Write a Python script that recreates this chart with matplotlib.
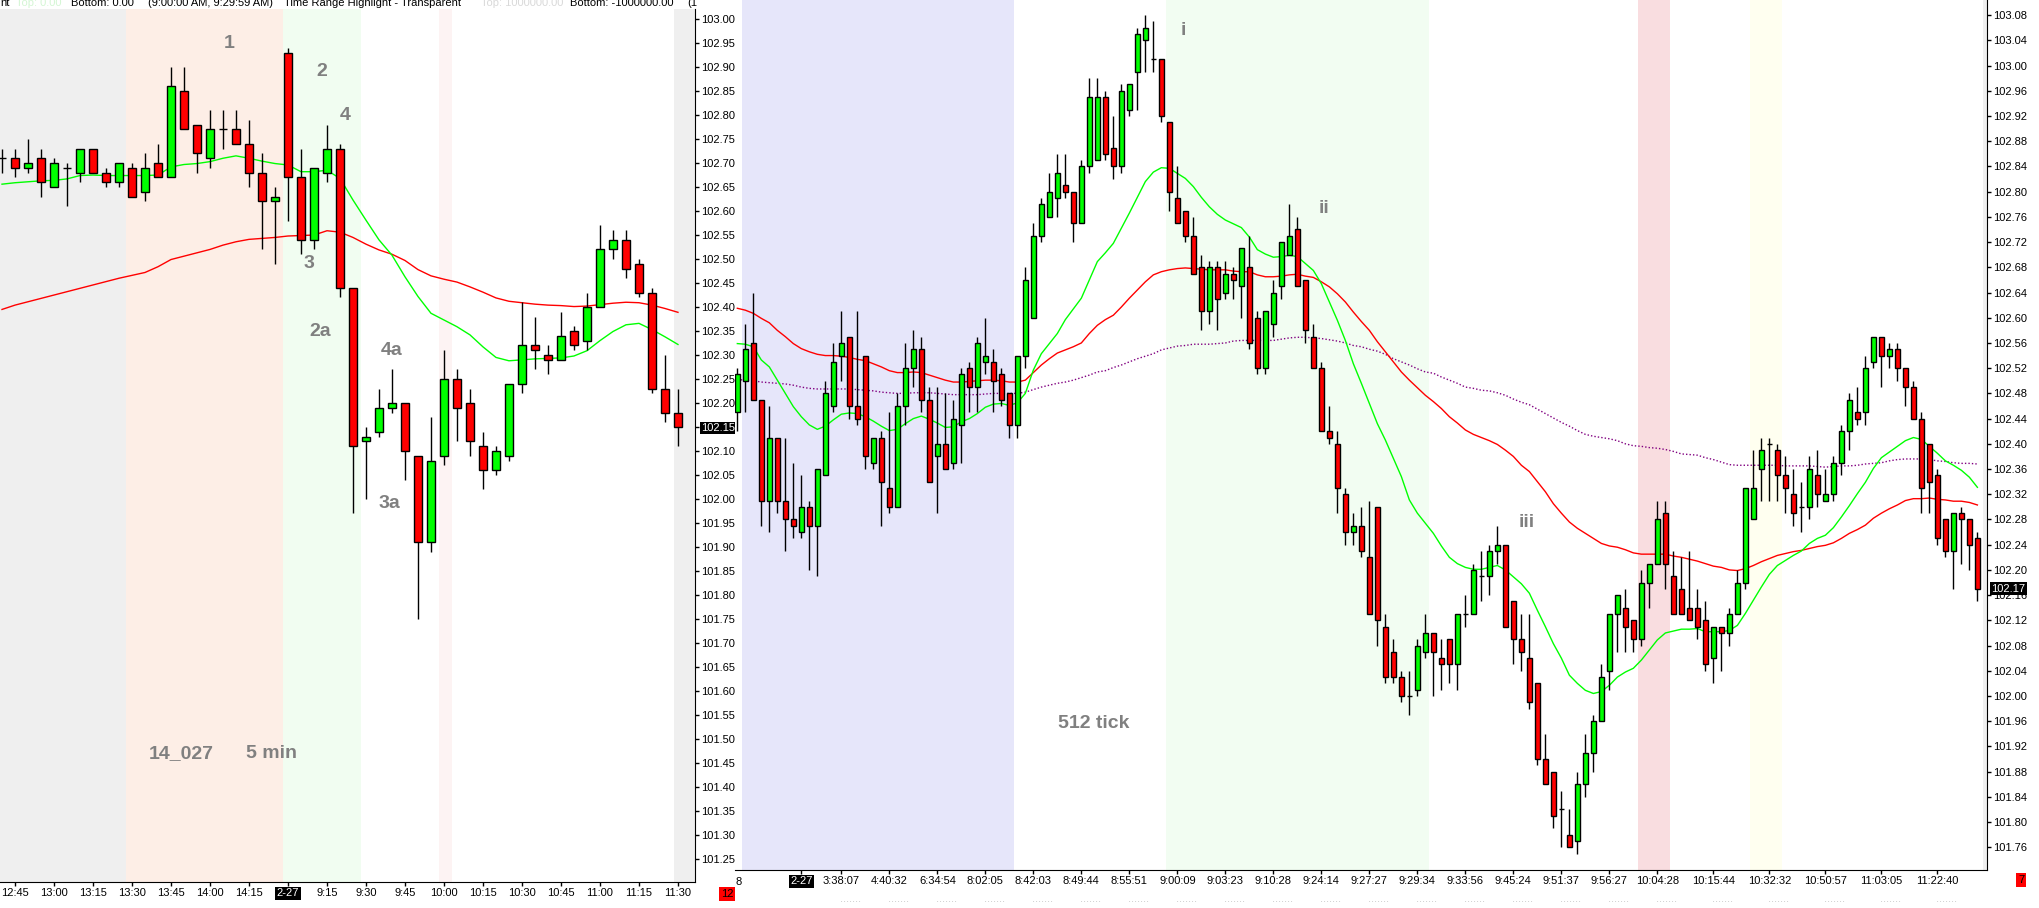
import numpy as np
import matplotlib
matplotlib.use("Agg")
import matplotlib.pyplot as plt

plt.rcParams['font.family'] = ['Liberation Sans', 'DejaVu Sans']

# ---- left panel: 5 min bars ----
l_open = [102.71, 102.71, 102.69, 102.71, 102.65, 102.69, 102.68, 102.73, 102.68, 102.66,
          102.69, 102.64, 102.70, 102.67, 102.85, 102.78, 102.71, 102.77, 102.77, 102.74,
          102.68, 102.62, 102.93, 102.67, 102.54, 102.68, 102.73, 102.44, 102.12, 102.14,
          102.19, 102.20, 102.09, 101.91, 102.09, 102.25, 102.20, 102.11, 102.06, 102.09,
          102.24, 102.32, 102.30, 102.29, 102.35, 102.33, 102.40, 102.52, 102.54, 102.49,
          102.43, 102.23, 102.18]
l_high = [102.73, 102.73, 102.75, 102.73, 102.71, 102.70, 102.73, 102.73, 102.69, 102.70,
          102.70, 102.72, 102.74, 102.90, 102.90, 102.78, 102.81, 102.81, 102.81, 102.79,
          102.72, 102.65, 102.94, 102.73, 102.69, 102.78, 102.74, 102.44, 102.15, 102.23,
          102.27, 102.20, 102.09, 102.17, 102.31, 102.27, 102.23, 102.14, 102.11, 102.24,
          102.41, 102.38, 102.32, 102.39, 102.36, 102.43, 102.57, 102.56, 102.56, 102.50,
          102.44, 102.30, 102.23]
l_low = [102.68, 102.67, 102.68, 102.63, 102.65, 102.61, 102.66, 102.68, 102.65, 102.65,
         102.63, 102.62, 102.67, 102.67, 102.77, 102.68, 102.69, 102.73, 102.74, 102.65,
         102.52, 102.49, 102.58, 102.51, 102.52, 102.66, 102.42, 101.97, 102.00, 102.13,
         102.18, 102.04, 101.75, 101.89, 102.07, 102.12, 102.09, 102.02, 102.05, 102.08,
         102.22, 102.27, 102.26, 102.29, 102.31, 102.31, 102.40, 102.50, 102.46, 102.42,
         102.22, 102.16, 102.11]
l_close = [102.71, 102.69, 102.70, 102.66, 102.70, 102.69, 102.73, 102.68, 102.66, 102.70,
           102.63, 102.69, 102.67, 102.86, 102.77, 102.72, 102.77, 102.77, 102.74, 102.68,
           102.62, 102.63, 102.67, 102.54, 102.69, 102.73, 102.44, 102.11, 102.13, 102.19,
           102.20, 102.10, 101.91, 102.08, 102.25, 102.19, 102.12, 102.06, 102.10, 102.24,
           102.32, 102.31, 102.29, 102.34, 102.32, 102.40, 102.52, 102.54, 102.48, 102.43,
           102.23, 102.18, 102.15]
l_ma_fast = [102.656, 102.659, 102.661, 102.663, 102.664, 102.667, 102.674, 102.675, 102.674, 102.674,
             102.674, 102.674, 102.675, 102.692, 102.697, 102.699, 102.703, 102.710, 102.715, 102.710,
             102.704, 102.699, 102.696, 102.682, 102.682, 102.685, 102.668, 102.623, 102.581, 102.540,
             102.508, 102.463, 102.422, 102.387, 102.373, 102.359, 102.342, 102.317, 102.295, 102.288,
             102.290, 102.292, 102.293, 102.294, 102.298, 102.309, 102.330, 102.349, 102.363, 102.366,
             102.353, 102.338, 102.322]
l_ma_slow = [102.395, 102.404, 102.411, 102.418, 102.425, 102.432, 102.439, 102.446, 102.453, 102.460,
             102.466, 102.472, 102.484, 102.499, 102.506, 102.513, 102.520, 102.529, 102.536, 102.541,
             102.543, 102.545, 102.548, 102.549, 102.550, 102.559, 102.556, 102.545, 102.531, 102.519,
             102.510, 102.497, 102.478, 102.465, 102.458, 102.452, 102.442, 102.431, 102.419, 102.412,
             102.409, 102.406, 102.404, 102.403, 102.401, 102.402, 102.405, 102.408, 102.410, 102.409,
             102.404, 102.397, 102.389]
l_tick_pos = [1, 4, 7, 10, 13, 16, 19, 22, 25, 28, 31, 34, 37, 40, 43, 46, 49, 52]
l_tick_lab = ['12:45', '13:00', '13:15', '13:30', '13:45', '14:00', '14:15', '2-27', '9:15',
              '9:30', '9:45', '10:00', '10:15', '10:30', '10:45', '11:00', '11:15', '11:30']

# ---- right panel: 512 tick bars ----
r_open = [102.45, 102.50, 102.56, 102.47, 102.31, 102.41, 102.31, 102.28, 102.26, 102.30,
          102.27, 102.35, 102.46, 102.54, 102.57, 102.46, 102.54, 102.37, 102.41, 102.33,
          102.30, 102.46, 102.52, 102.55, 102.47, 102.38, 102.40, 102.37, 102.43, 102.52,
          102.49, 102.53, 102.53, 102.51, 102.48, 102.43, 102.54, 102.60, 102.73, 102.76,
          102.79, 102.81, 102.80, 102.75, 102.84, 102.85, 102.95, 102.87, 102.84, 102.93,
          102.99, 103.04, 103.01, 103.01, 102.91, 102.79, 102.77, 102.73, 102.68, 102.61,
          102.68, 102.64, 102.67, 102.65, 102.68, 102.60, 102.52, 102.59, 102.65, 102.70,
          102.74, 102.66, 102.57, 102.52, 102.42, 102.40, 102.32, 102.26, 102.27, 102.22,
          102.30, 102.11, 102.07, 102.03, 102.00, 102.01, 102.07, 102.10, 102.06, 102.09,
          102.05, 102.13, 102.13, 102.19, 102.19, 102.23, 102.24, 102.15, 102.09, 102.06,
          102.02, 101.90, 101.88, 101.82, 101.78, 101.77, 101.86, 101.91, 101.96, 102.04,
          102.13, 102.14, 102.12, 102.09, 102.18, 102.21, 102.29, 102.19, 102.17, 102.14,
          102.14, 102.12, 102.06, 102.11, 102.10, 102.13, 102.18, 102.28, 102.36, 102.40,
          102.39, 102.35, 102.32, 102.30, 102.30, 102.35, 102.31, 102.32, 102.37, 102.42,
          102.45, 102.45, 102.53, 102.57, 102.54, 102.55, 102.52, 102.49, 102.44, 102.40,
          102.35, 102.28, 102.23, 102.29, 102.28, 102.25]
r_high = [102.52, 102.59, 102.64, 102.47, 102.46, 102.41, 102.41, 102.37, 102.35, 102.31,
          102.36, 102.50, 102.56, 102.61, 102.57, 102.61, 102.54, 102.41, 102.42, 102.45,
          102.48, 102.56, 102.58, 102.57, 102.49, 102.49, 102.48, 102.47, 102.52, 102.53,
          102.57, 102.60, 102.55, 102.52, 102.48, 102.54, 102.68, 102.75, 102.79, 102.83,
          102.86, 102.86, 102.80, 102.85, 102.98, 102.98, 102.96, 102.92, 102.97, 102.97,
          103.06, 103.08, 103.07, 103.01, 102.91, 102.84, 102.77, 102.76, 102.70, 102.69,
          102.69, 102.69, 102.68, 102.71, 102.73, 102.61, 102.61, 102.66, 102.72, 102.78,
          102.76, 102.66, 102.59, 102.53, 102.46, 102.42, 102.33, 102.29, 102.30, 102.31,
          102.30, 102.13, 102.09, 102.04, 102.04, 102.09, 102.13, 102.10, 102.09, 102.09,
          102.13, 102.16, 102.21, 102.23, 102.24, 102.27, 102.24, 102.15, 102.13, 102.13,
          102.02, 101.94, 101.88, 101.85, 101.82, 101.88, 101.94, 101.97, 102.05, 102.13,
          102.16, 102.17, 102.12, 102.20, 102.21, 102.31, 102.31, 102.23, 102.22, 102.23,
          102.17, 102.15, 102.11, 102.11, 102.14, 102.20, 102.33, 102.39, 102.41, 102.41,
          102.40, 102.38, 102.36, 102.34, 102.38, 102.39, 102.36, 102.38, 102.43, 102.48,
          102.49, 102.54, 102.57, 102.57, 102.56, 102.56, 102.52, 102.50, 102.45, 102.40,
          102.36, 102.28, 102.29, 102.30, 102.28, 102.26]
r_low = [102.42, 102.45, 102.47, 102.27, 102.26, 102.29, 102.23, 102.25, 102.25, 102.20,
         102.19, 102.35, 102.45, 102.50, 102.44, 102.43, 102.36, 102.36, 102.27, 102.29,
         102.30, 102.43, 102.49, 102.45, 102.34, 102.29, 102.36, 102.36, 102.37, 102.45,
         102.45, 102.51, 102.45, 102.46, 102.41, 102.41, 102.52, 102.60, 102.72, 102.76,
         102.76, 102.79, 102.72, 102.75, 102.83, 102.85, 102.85, 102.82, 102.83, 102.92,
         102.93, 102.99, 102.99, 102.91, 102.77, 102.75, 102.72, 102.67, 102.58, 102.59,
         102.58, 102.63, 102.63, 102.60, 102.55, 102.51, 102.51, 102.57, 102.63, 102.70,
         102.65, 102.56, 102.52, 102.42, 102.40, 102.29, 102.24, 102.24, 102.22, 102.13,
         102.08, 102.02, 102.02, 101.99, 101.97, 102.00, 102.06, 102.00, 102.01, 102.02,
         102.01, 102.11, 102.13, 102.15, 102.16, 102.21, 102.11, 102.05, 102.04, 101.98,
         101.89, 101.86, 101.79, 101.76, 101.76, 101.75, 101.84, 101.88, 101.96, 102.01,
         102.07, 102.07, 102.07, 102.08, 102.14, 102.21, 102.17, 102.13, 102.13, 102.12,
         102.09, 102.04, 102.02, 102.04, 102.08, 102.13, 102.17, 102.28, 102.31, 102.31,
         102.31, 102.29, 102.27, 102.26, 102.28, 102.30, 102.31, 102.31, 102.35, 102.39,
         102.43, 102.43, 102.52, 102.49, 102.52, 102.50, 102.46, 102.44, 102.29, 102.29,
         102.24, 102.22, 102.17, 102.21, 102.20, 102.15]
r_close = [102.51, 102.55, 102.47, 102.31, 102.41, 102.31, 102.28, 102.27, 102.30, 102.27,
           102.36, 102.48, 102.53, 102.56, 102.46, 102.44, 102.38, 102.41, 102.34, 102.30,
           102.46, 102.52, 102.55, 102.47, 102.34, 102.40, 102.36, 102.44, 102.51, 102.49,
           102.56, 102.54, 102.50, 102.47, 102.43, 102.54, 102.66, 102.73, 102.78, 102.80,
           102.83, 102.80, 102.75, 102.84, 102.95, 102.95, 102.86, 102.84, 102.96, 102.97,
           103.05, 103.06, 103.01, 102.92, 102.80, 102.75, 102.73, 102.67, 102.61, 102.68,
           102.63, 102.67, 102.66, 102.71, 102.56, 102.52, 102.61, 102.64, 102.72, 102.73,
           102.65, 102.58, 102.52, 102.42, 102.41, 102.33, 102.26, 102.27, 102.23, 102.13,
           102.12, 102.03, 102.03, 102.00, 102.00, 102.08, 102.10, 102.07, 102.05, 102.05,
           102.13, 102.13, 102.20, 102.19, 102.23, 102.24, 102.11, 102.09, 102.07, 101.99,
           101.90, 101.86, 101.81, 101.82, 101.76, 101.86, 101.91, 101.96, 102.03, 102.13,
           102.16, 102.11, 102.09, 102.18, 102.21, 102.28, 102.21, 102.13, 102.13, 102.12,
           102.11, 102.05, 102.11, 102.10, 102.13, 102.18, 102.33, 102.33, 102.39, 102.40,
           102.35, 102.33, 102.29, 102.30, 102.36, 102.32, 102.32, 102.37, 102.42, 102.47,
           102.44, 102.52, 102.57, 102.54, 102.55, 102.52, 102.49, 102.44, 102.33, 102.34,
           102.25, 102.23, 102.29, 102.28, 102.24, 102.17]
r_ma_fast = [102.559, 102.558, 102.554, 102.533, 102.522, 102.501, 102.480, 102.459, 102.443, 102.430,
             102.423, 102.428, 102.438, 102.447, 102.449, 102.448, 102.443, 102.436, 102.428, 102.421,
             102.423, 102.432, 102.440, 102.444, 102.439, 102.433, 102.426, 102.427, 102.435, 102.440,
             102.448, 102.458, 102.463, 102.464, 102.461, 102.465, 102.480, 102.517, 102.543, 102.559,
             102.575, 102.597, 102.614, 102.631, 102.660, 102.689, 102.703, 102.718, 102.742, 102.766,
             102.791, 102.816, 102.831, 102.838, 102.837, 102.829, 102.821, 102.808, 102.791, 102.776,
             102.764, 102.755, 102.749, 102.743, 102.728, 102.708, 102.701, 102.696, 102.697, 102.699,
             102.697, 102.686, 102.675, 102.654, 102.625, 102.596, 102.564, 102.527, 102.496, 102.464,
             102.432, 102.406, 102.377, 102.348, 102.311, 102.290, 102.274, 102.258, 102.238, 102.220,
             102.210, 102.204, 102.201, 102.201, 102.204, 102.207, 102.200, 102.189, 102.178, 102.163,
             102.136, 102.110, 102.083, 102.060, 102.033, 102.020, 102.009, 102.004, 102.007, 102.017,
             102.030, 102.038, 102.044, 102.057, 102.073, 102.089, 102.100, 102.103, 102.106, 102.106,
             102.107, 102.102, 102.102, 102.102, 102.104, 102.112, 102.131, 102.152, 102.173, 102.193,
             102.207, 102.215, 102.223, 102.230, 102.242, 102.250, 102.255, 102.267, 102.284, 102.302,
             102.321, 102.339, 102.361, 102.378, 102.387, 102.396, 102.405, 102.410, 102.407, 102.396,
             102.385, 102.373, 102.366, 102.358, 102.347, 102.331]
r_ma_mid = [102.615, 102.612, 102.607, 102.599, 102.592, 102.580, 102.570, 102.559, 102.551, 102.546,
            102.542, 102.540, 102.540, 102.539, 102.537, 102.534, 102.532, 102.527, 102.522, 102.516,
            102.513, 102.513, 102.514, 102.513, 102.509, 102.505, 102.501, 102.498, 102.498, 102.499,
            102.500, 102.501, 102.501, 102.500, 102.498, 102.498, 102.501, 102.513, 102.525, 102.535,
            102.544, 102.549, 102.554, 102.560, 102.575, 102.588, 102.597, 102.604, 102.617, 102.631,
            102.644, 102.657, 102.668, 102.673, 102.676, 102.678, 102.679, 102.678, 102.677, 102.676,
            102.676, 102.676, 102.674, 102.673, 102.673, 102.668, 102.665, 102.665, 102.666, 102.668,
            102.669, 102.666, 102.664, 102.657, 102.649, 102.638, 102.625, 102.609, 102.594, 102.580,
            102.562, 102.546, 102.530, 102.514, 102.501, 102.489, 102.477, 102.467, 102.456, 102.443,
            102.433, 102.422, 102.415, 102.410, 102.405, 102.399, 102.390, 102.380, 102.366, 102.356,
            102.340, 102.324, 102.305, 102.290, 102.276, 102.266, 102.258, 102.250, 102.242, 102.238,
            102.236, 102.232, 102.227, 102.225, 102.225, 102.225, 102.225, 102.222, 102.220, 102.217,
            102.214, 102.210, 102.206, 102.204, 102.200, 102.199, 102.202, 102.207, 102.213, 102.218,
            102.223, 102.226, 102.229, 102.231, 102.234, 102.237, 102.239, 102.243, 102.250, 102.258,
            102.264, 102.271, 102.282, 102.290, 102.297, 102.303, 102.310, 102.313, 102.313, 102.314,
            102.312, 102.311, 102.309, 102.309, 102.307, 102.303]
r_ma_slow = [102.502, 102.501, 102.500, 102.498, 102.497, 102.496, 102.495, 102.493, 102.490, 102.488,
             102.487, 102.487, 102.487, 102.487, 102.487, 102.486, 102.485, 102.484, 102.482, 102.481,
             102.480, 102.480, 102.481, 102.481, 102.481, 102.480, 102.479, 102.478, 102.478, 102.478,
             102.478, 102.479, 102.480, 102.480, 102.480, 102.480, 102.482, 102.486, 102.490, 102.493,
             102.496, 102.498, 102.501, 102.505, 102.509, 102.514, 102.516, 102.521, 102.525, 102.530,
             102.535, 102.539, 102.543, 102.549, 102.552, 102.555, 102.556, 102.558, 102.558, 102.558,
             102.559, 102.560, 102.563, 102.564, 102.564, 102.564, 102.564, 102.564, 102.566, 102.568,
             102.569, 102.569, 102.568, 102.567, 102.565, 102.563, 102.560, 102.556, 102.554, 102.550,
             102.547, 102.542, 102.535, 102.530, 102.525, 102.519, 102.514, 102.512, 102.506, 102.501,
             102.496, 102.490, 102.488, 102.485, 102.484, 102.481, 102.477, 102.471, 102.466, 102.462,
             102.455, 102.448, 102.441, 102.434, 102.428, 102.421, 102.415, 102.412, 102.410, 102.408,
             102.405, 102.400, 102.397, 102.396, 102.394, 102.393, 102.391, 102.388, 102.384, 102.383,
             102.382, 102.378, 102.375, 102.371, 102.367, 102.366, 102.366, 102.366, 102.366, 102.366,
             102.366, 102.365, 102.365, 102.365, 102.365, 102.364, 102.363, 102.364, 102.365, 102.365,
             102.366, 102.368, 102.369, 102.370, 102.373, 102.375, 102.376, 102.376, 102.376, 102.375,
             102.373, 102.372, 102.370, 102.369, 102.369, 102.368]
r_tick_pos = [8, 13, 19, 25, 31, 37, 43, 49, 55, 61, 67, 73, 79, 85, 91, 97, 103, 109,
              115, 122, 129, 136, 143, 150]
r_tick_lab = ['2-27', '3:38:07', '4:40:32', '6:34:54', '8:02:05', '8:42:03', '8:49:44',
              '8:55:51', '9:00:09', '9:03:23', '9:10:28', '9:24:14', '9:27:27', '9:29:34',
              '9:33:56', '9:45:24', '9:51:37', '9:56:27', '10:04:28', '10:15:44', '10:32:32',
              '10:50:57', '11:03:05', '11:22:40']

W, H = 2040.0, 908.0
fig = plt.figure(figsize=(W / 100, H / 100), dpi=100)
fig.patch.set_facecolor('white')


def px_axes(x0, y0, x1, y1):
    return fig.add_axes([x0 / W, 1 - y1 / H, (x1 - x0) / W, (y1 - y0) / H])


def candles(ax, o, h, l, c, width):
    o, h, l, c = map(np.asarray, (o, h, l, c))
    x = np.arange(len(o))
    ax.vlines(x, l, h, color='black', lw=1, zorder=3)
    colors = np.where(c > o, '#00ff00', '#ff0000')
    ax.bar(x, np.abs(c - o), width, bottom=np.minimum(o, c), color=colors,
           edgecolor='black', linewidth=1, zorder=4)


def style_axes(ax):
    for s in ('top', 'left'):
        ax.spines[s].set_visible(False)
    ax.yaxis.tick_right()
    ax.tick_params(axis='both', direction='out', length=3, width=1, labelsize=8,
                   colors='black', pad=1.5)


ann_font = dict(family=['Liberation Sans Narrow', 'Liberation Sans'], weight='bold',
                size=14, color='#808080', ha='center', va='center', zorder=6)

# ---------- left panel ----------
ax_l = px_axes(0, 9, 695, 882)
style_axes(ax_l)
ax_l.set_xlim(-0.154, 53.31)
ax_l.set_ylim(101.202, 103.021)
for a, b, col in [(-0.154, 9.54, '#efefef'), (9.54, 21.6, '#fdeee6'), (21.6, 27.6, '#f1fdf1'),
                  (33.6, 34.6, '#fdf3f3'), (51.7, 53.31, '#efefef')]:
    ax_l.axvspan(a, b, color=col, lw=0, zorder=0)
xl = np.arange(len(l_open))
ax_l.plot(xl, l_ma_slow, color='#ff0000', lw=1, zorder=2)
ax_l.plot(xl, l_ma_fast, color='#00ff00', lw=1, zorder=2)
candles(ax_l, l_open, l_high, l_low, l_close, 0.6)
ax_l.set_xticks(l_tick_pos)
ax_l.set_xticklabels(l_tick_lab)
l_yt = np.round(np.arange(101.25, 103.001, 0.05), 2)
ax_l.set_yticks(l_yt)
ax_l.set_yticklabels(['%.2f' % v for v in l_yt])
for lbl in ax_l.get_xticklabels() + ax_l.get_yticklabels():
    if lbl.get_text() in ('2-27', '102.15'):
        lbl.set_color('white')
        lbl.set_bbox(dict(facecolor='black', edgecolor='none', pad=1))

for txt, x, y in [('1', 17.5, 102.95), ('2', 24.6, 102.89), ('4', 26.4, 102.80),
                  ('3', 23.6, 102.49), ('2a', 24.5, 102.35), ('4a', 30.0, 102.31),
                  ('3a', 29.8, 101.99), ('14_027', 13.8, 101.47), ('5 min', 20.7, 101.47)]:
    ax_l.text(x, y, txt, **ann_font)

# ---------- right panel ----------
ax_r = px_axes(735, 0, 1987, 870)
style_axes(ax_r)
ax_r.set_xlim(-0.29, 156.2)
ax_r.set_ylim(101.724, 103.104)
for a, b, col in [(0.6, 34.6, '#e6e6fa'), (53.6, 86.5, '#f2fdf2'), (112.6, 116.6, '#f9dde0'),
                  (126.6, 130.6, '#fffff0'), (155.7, 156.2, '#efefef')]:
    ax_r.axvspan(a, b, color=col, lw=0, zorder=0)
xr = np.arange(len(r_open))
ax_r.plot(xr, r_ma_slow, color='#800080', lw=1, ls=(0, (1, 1.5)), zorder=2)
ax_r.plot(xr, r_ma_mid, color='#ff0000', lw=1, zorder=2)
ax_r.plot(xr, r_ma_fast, color='#00ff00', lw=1, zorder=2)
candles(ax_r, r_open, r_high, r_low, r_close, 0.55)
ax_r.set_xticks(r_tick_pos)
ax_r.set_xticklabels(r_tick_lab)
r_yt = np.round(np.arange(101.76, 103.081, 0.04), 2)
ax_r.set_yticks(r_yt)
ax_r.set_yticklabels(['%.2f' % v for v in r_yt])
for lbl in ax_r.get_xticklabels():
    if lbl.get_text() == '2-27':
        lbl.set_color('white')
        lbl.set_bbox(dict(facecolor='black', edgecolor='none', pad=1))
ax_r.annotate('%.2f' % r_close[-1], xy=(1.0, r_close[-1]), xycoords=('axes fraction', 'data'),
              xytext=(3, 0), textcoords='offset points', ha='left', va='center',
              fontsize=8, color='white', zorder=10, annotation_clip=False,
              bbox=dict(facecolor='black', edgecolor='none', pad=1))
# faint second row of (unreadable) tick text under the time labels
for p in r_tick_pos[1:]:
    ax_r.annotate('. . . . . . .', xy=(p + 1.2, 0), xycoords=('data', 'axes fraction'),
                  xytext=(0, -22), textcoords='offset points', ha='center', va='center',
                  fontsize=4, color='#707070', annotation_clip=False)

for txt, x, y in [('i', 55.7, 103.056), ('ii', 73.3, 102.774), ('iii', 98.7, 102.276),
                  ('512 tick', 44.5, 101.956)]:
    ax_r.text(x, y, txt, **ann_font)

# ---------- chart furniture ----------
fig.text(736 / W, 1 - 882 / H, '8', ha='left', va='center', fontsize=8)
fig.text(727 / W, 1 - 894 / H, '12', ha='center', va='center', fontsize=8,
         bbox=dict(facecolor='#ff0000', edgecolor='none', pad=1.5))
fig.text(2021 / W, 1 - 880 / H, '7', ha='center', va='center', fontsize=8,
         bbox=dict(facecolor='#ff0000', edgecolor='none', pad=1.5))

header = [(0, 'nt', 'black'), (16, 'Top: 0.00', '#d4f6d4'), (71, 'Bottom: 0.00', 'black'),
          (148, '(9:00:00 AM, 9:29:59 AM)', 'black'),
          (284, 'Time Range Highlight - Transparent', 'black'),
          (481, 'Top: 1000000.00', '#d9d9d9'), (570, 'Bottom: -1000000.00', 'black'),
          (687, '(1', 'black')]
for x, txt, col in header:
    fig.text(x / W, 1 - 5.7 / H, txt, ha='left', va='baseline', fontsize=8, color=col)

fig.savefig('out.png', dpi=100)
